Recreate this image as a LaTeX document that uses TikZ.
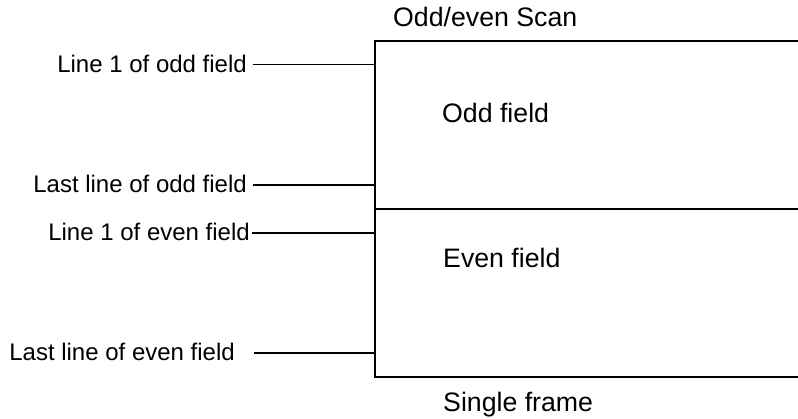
\documentclass[tikz,border=0pt]{standalone}
\usepackage{fontspec}
\setmainfont{Liberation Sans}
\usetikzlibrary{positioning}

\begin{document}
\begin{tikzpicture}[x=1pt, y=-1pt,
        lbl/.style={anchor=base east, inner sep=0pt, font=\fontsize{24}{28}\selectfont},
        fieldtxt/.style={anchor=base west, inner sep=0pt, font=\fontsize{26.7}{31}\selectfont},
        lead/.style={line width=1.5pt},
        frame/.style={line width=2pt}]
            \useasboundingbox (0,0) rectangle (798,418);

            \coordinate (tr) at (798,41);
            \coordinate (tl) at (375,41);
            \coordinate (bl) at (375,377);
            \coordinate (br) at (798,377);
            \coordinate (ml) at (375,209);
            \coordinate (mr) at (798,209);

            \coordinate (eo1) at (375,64.5);
            \coordinate (eo2) at (375,185);
            \coordinate (ee1) at (375,233);
            \coordinate (ee2) at (375,353);

            \node[fieldtxt]   (scan)      at (393,26.7)   {Odd/even Scan};
            \node[fieldtxt]   (oddf)      at (442,122.7)  {Odd field};
            \node[fieldtxt]   (evenf)     at (443,267.7)  {Even field};
            \node[fieldtxt]   (single)    at (443,411)    {Single frame};

            \node[lbl]    (lo1)    at (247,72.3)   {Line 1 of odd field};
            \node[lbl]    (lo2)    at (247,192.7)  {Last line of odd field};
            \node[lbl]    (le1)    at (250,240)    {Line 1 of even field};
            \node[lbl]    (le2)    at (235,360)    {Last line of even field};

            \draw[frame] (tr) -- (tl) -- (bl) -- (br);
            \draw[frame] (ml) -- (mr);

            \draw[lead, shorten <=6pt]  (lo1.east |- eo1) -- (eo1);
            \draw[lead, shorten <=6pt]  (lo2.east |- eo2) -- (eo2);
            \draw[lead, shorten <=2pt]  (le1.east |- ee1) -- (ee1);
            \draw[lead, shorten <=19pt] (le2.east |- ee2) -- (ee2);
        \end{tikzpicture}
\end{document}
